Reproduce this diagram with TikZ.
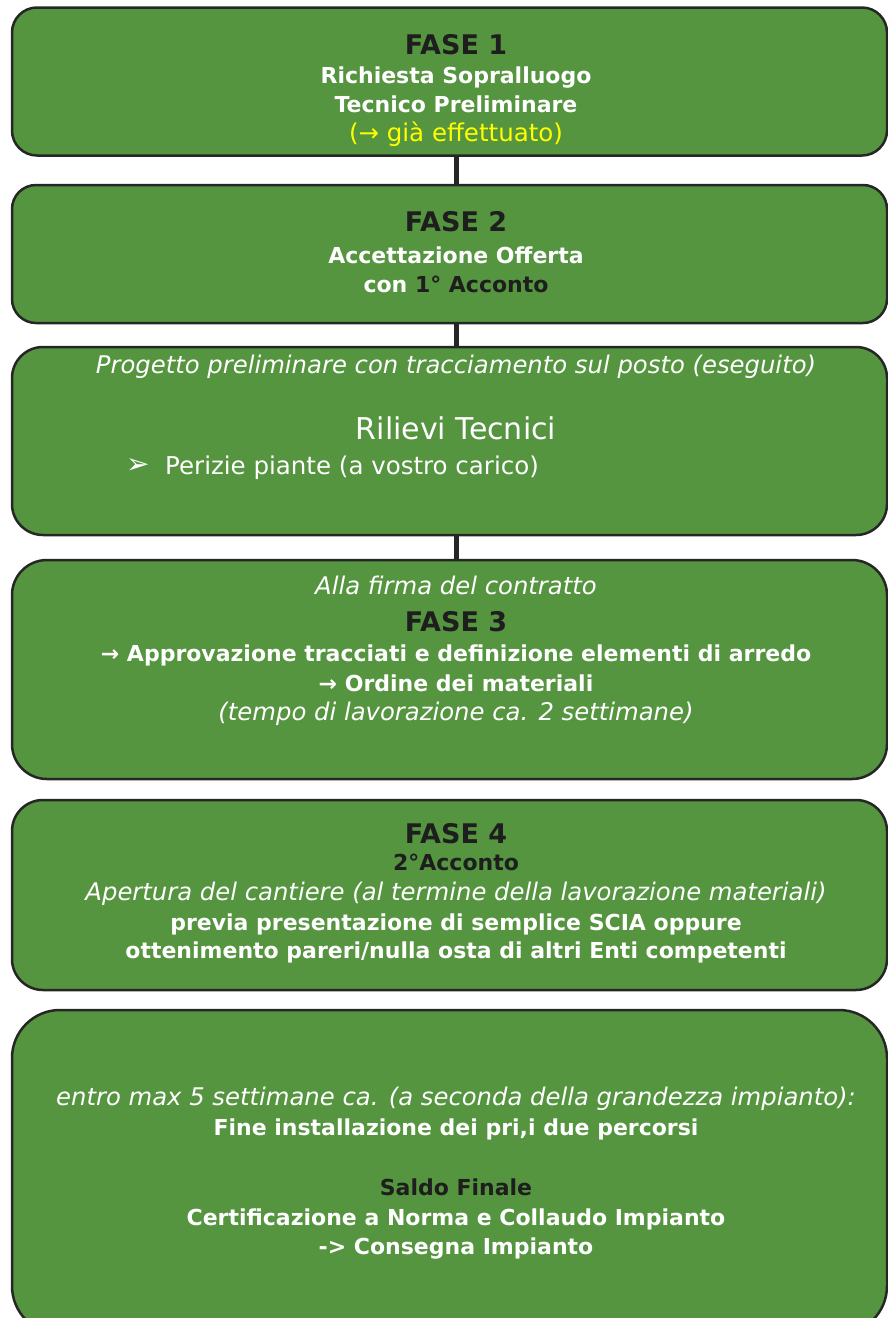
\documentclass[tikz,border=0pt]{standalone}
\usepackage{fontspec}
\setmainfont{DejaVu Sans}
\definecolor{boxgreen}{RGB}{85,149,64}
\definecolor{boxline}{RGB}{38,38,38}
\definecolor{darktext}{RGB}{30,30,30}
\definecolor{notice}{RGB}{255,255,0}

\tikzset{
  box/.style={draw=boxline, fill=boxgreen, line width=2.5pt, rounded corners=#1,
    minimum width=875pt, inner sep=0pt, outer sep=0pt},
  link/.style={draw=boxline, line width=5pt},
  line/.style={anchor=base, inner sep=0pt},
  fase/.style={line, font=\fontsize{27}{32}\selectfont\bfseries, text=darktext},
  txt/.style={line, font=\fontsize{22}{26}\selectfont\bfseries, text=white},
  note/.style={line, font=\fontsize{24.3}{28}\selectfont\itshape, text=white},
  plain/.style={line, font=\fontsize{24.5}{28}\selectfont, text=white}
}

\begin{document}
\begin{tikzpicture}[x=1pt,y=-1pt]
    \useasboundingbox (0,0) rectangle (888,1318);

    % the six boxes
    \node[box=25pt, minimum height=148pt] (b1) at (449.5,81.5) {};
    \node[box=24pt, minimum height=138pt] (b2) at (449.5,254) {};
    \node[box=31pt, minimum height=188pt] (b3) at (449.5,441) {};
    \node[box=35pt, minimum height=219pt] (b4) at (449.5,669.5) {};
    \node[box=31pt, minimum height=190pt] (b5) at (449.5,895) {};
    \node[box=48pt, minimum height=324pt] (b6) at (449.5,1172) {};

    % FASE 1
    \node[fase] (f1) at (456,54) {FASE 1};
    \node[txt] (f1a) at (456,83) {Richiesta Sopralluogo};
    \node[txt] (f1b) at (456,112) {Tecnico Preliminare};
    \node[plain, text=notice] (f1c) at (456,141) {(→ già effettuato)};

    % FASE 2
    \node[fase] (f2) at (456,231) {FASE 2};
    \node[txt] (f2a) at (456,263) {Accettazione Offerta};
    \node[txt] (f2b) at (456,292) {con \textcolor{darktext}{1° Acconto}};

    % rilievi
    \node[note] (r1) at (456,373) {Progetto preliminare con tracciamento sul posto (eseguito)};
    \node[plain, font=\fontsize{30}{36}\selectfont] (r2) at (456,439) {Rilievi Tecnici};
    \node[plain, anchor=base west, font=\fontsize{28}{32}\selectfont] (r3) at (126,473) {➢};
    \node[plain, anchor=base west] (r4) at (165,474) {Perizie piante (a vostro carico)};

    % FASE 3
    \node[note] (f3a) at (456,594) {Alla firma del contratto};
    \node[fase] (f3) at (456,631) {FASE 3};
    \node[txt] (f3b) at (456,661) {→ Approvazione tracciati e definizione elementi di arredo};
    \node[txt] (f3c) at (456,691) {→ Ordine dei materiali};
    \node[note] (f3d) at (456,720) {(tempo di lavorazione ca. 2 settimane)};

    % FASE 4
    \node[fase] (f4) at (456,843) {FASE 4};
    \node[txt, text=darktext] (f4a) at (456,870) {2°Acconto};
    \node[note] (f4b) at (456,900) {Apertura del cantiere (al termine della lavorazione materiali)};
    \node[txt] (f4c) at (456,930) {previa presentazione di semplice SCIA oppure};
    \node[txt] (f4d) at (456,958) {ottenimento pareri/nulla osta di altri Enti competenti};

    % fine lavori
    \node[note] (e1) at (456,1105) {entro max 5 settimane ca. (a seconda della grandezza impianto):};
    \node[txt] (e2) at (456,1135) {Fine installazione dei pri,i due percorsi};
    \node[txt, text=darktext] (e3) at (456,1195) {Saldo Finale};
    \node[txt] (e4) at (456,1225) {Certificazione a Norma e Collaudo Impianto};
    \node[txt] (e5) at (456,1254) {-> Consegna Impianto};

    % connectors
    \draw[link] (f1 |- b1.south) -- (f1 |- b2.north);
    \draw[link] (f1 |- b2.south) -- (f1 |- b3.north);
    \draw[link] (f1 |- b3.south) -- (f1 |- b4.north);
\end{tikzpicture}
\end{document}
